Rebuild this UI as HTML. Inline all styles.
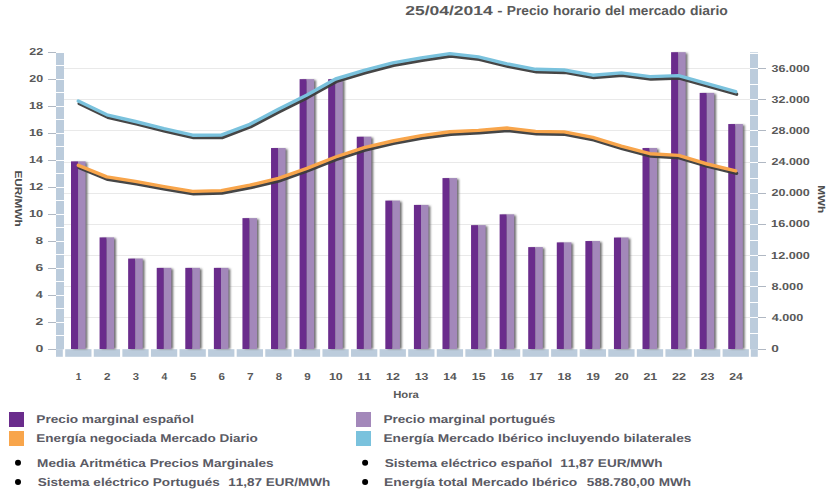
<!DOCTYPE html>
<html><head><meta charset="utf-8"><style>
html,body{margin:0;padding:0;background:#fff;}
svg{display:block;}
text{font-family:"Liberation Sans",sans-serif;font-weight:bold;font-kerning:none;text-rendering:geometricPrecision;}
</style></head><body>
<svg width="838" height="504" viewBox="0 0 838 504">
<rect width="838" height="504" fill="#fff"/>
<rect x="64" y="317" width="686" height="1" fill="#e9e9e9"/>
<rect x="64" y="286" width="686" height="1" fill="#e9e9e9"/>
<rect x="64" y="255" width="686" height="1" fill="#e9e9e9"/>
<rect x="64" y="224" width="686" height="1" fill="#e9e9e9"/>
<rect x="64" y="193" width="686" height="1" fill="#e9e9e9"/>
<rect x="64" y="162" width="686" height="1" fill="#e9e9e9"/>
<rect x="64" y="130" width="686" height="1" fill="#e9e9e9"/>
<rect x="64" y="99" width="686" height="1" fill="#e9e9e9"/>
<rect x="64" y="68" width="686" height="1" fill="#e9e9e9"/>
<rect x="56" y="52.3" width="8" height="297.0" fill="#bcccdc"/>
<rect x="56" y="335" width="8" height="1" fill="#fff"/>
<rect x="56" y="322" width="8" height="1" fill="#fff"/>
<rect x="56" y="308" width="8" height="1" fill="#fff"/>
<rect x="56" y="295" width="8" height="1" fill="#fff"/>
<rect x="56" y="281" width="8" height="1" fill="#fff"/>
<rect x="56" y="268" width="8" height="1" fill="#fff"/>
<rect x="56" y="254" width="8" height="1" fill="#fff"/>
<rect x="56" y="241" width="8" height="1" fill="#fff"/>
<rect x="56" y="227" width="8" height="1" fill="#fff"/>
<rect x="56" y="214" width="8" height="1" fill="#fff"/>
<rect x="56" y="200" width="8" height="1" fill="#fff"/>
<rect x="56" y="187" width="8" height="1" fill="#fff"/>
<rect x="56" y="173" width="8" height="1" fill="#fff"/>
<rect x="56" y="160" width="8" height="1" fill="#fff"/>
<rect x="56" y="146" width="8" height="1" fill="#fff"/>
<rect x="56" y="133" width="8" height="1" fill="#fff"/>
<rect x="56" y="119" width="8" height="1" fill="#fff"/>
<rect x="56" y="106" width="8" height="1" fill="#fff"/>
<rect x="56" y="92" width="8" height="1" fill="#fff"/>
<rect x="56" y="79" width="8" height="1" fill="#fff"/>
<rect x="56" y="65" width="8" height="1" fill="#fff"/>
<rect x="56" y="52" width="8" height="1" fill="#fff"/>
<rect x="56" y="349.2" width="6.8" height="7.6" fill="#bcccdc"/>
<rect x="750" y="52.3" width="8" height="297.0" fill="#bcccdc"/>
<rect x="750" y="317" width="8" height="1" fill="#fff"/>
<rect x="750" y="286" width="8" height="1" fill="#fff"/>
<rect x="750" y="255" width="8" height="1" fill="#fff"/>
<rect x="750" y="224" width="8" height="1" fill="#fff"/>
<rect x="750" y="193" width="8" height="1" fill="#fff"/>
<rect x="750" y="162" width="8" height="1" fill="#fff"/>
<rect x="750" y="130" width="8" height="1" fill="#fff"/>
<rect x="750" y="99" width="8" height="1" fill="#fff"/>
<rect x="750" y="68" width="8" height="1" fill="#fff"/>
<rect x="750" y="333" width="8" height="1" fill="#fff"/>
<rect x="750" y="302" width="8" height="1" fill="#fff"/>
<rect x="750" y="271" width="8" height="1" fill="#fff"/>
<rect x="750" y="240" width="8" height="1" fill="#fff"/>
<rect x="750" y="209" width="8" height="1" fill="#fff"/>
<rect x="750" y="178" width="8" height="1" fill="#fff"/>
<rect x="750" y="146" width="8" height="1" fill="#fff"/>
<rect x="750" y="115" width="8" height="1" fill="#fff"/>
<rect x="750" y="84" width="8" height="1" fill="#fff"/>
<rect x="750" y="53" width="8" height="1" fill="#fff"/>
<rect x="750.8" y="349.2" width="7" height="7.6" fill="#bcccdc"/>
<rect x="65.20" y="349.2" width="26.28" height="7.6" fill="#bcccdc"/>
<rect x="93.78" y="349.2" width="26.28" height="7.6" fill="#bcccdc"/>
<rect x="122.37" y="349.2" width="26.28" height="7.6" fill="#bcccdc"/>
<rect x="150.95" y="349.2" width="26.28" height="7.6" fill="#bcccdc"/>
<rect x="179.53" y="349.2" width="26.28" height="7.6" fill="#bcccdc"/>
<rect x="208.11" y="349.2" width="26.28" height="7.6" fill="#bcccdc"/>
<rect x="236.70" y="349.2" width="26.28" height="7.6" fill="#bcccdc"/>
<rect x="265.28" y="349.2" width="26.28" height="7.6" fill="#bcccdc"/>
<rect x="293.86" y="349.2" width="26.28" height="7.6" fill="#bcccdc"/>
<rect x="322.45" y="349.2" width="26.28" height="7.6" fill="#bcccdc"/>
<rect x="351.03" y="349.2" width="26.28" height="7.6" fill="#bcccdc"/>
<rect x="379.61" y="349.2" width="26.28" height="7.6" fill="#bcccdc"/>
<rect x="408.20" y="349.2" width="26.28" height="7.6" fill="#bcccdc"/>
<rect x="436.78" y="349.2" width="26.28" height="7.6" fill="#bcccdc"/>
<rect x="465.36" y="349.2" width="26.28" height="7.6" fill="#bcccdc"/>
<rect x="493.94" y="349.2" width="26.28" height="7.6" fill="#bcccdc"/>
<rect x="522.53" y="349.2" width="26.28" height="7.6" fill="#bcccdc"/>
<rect x="551.11" y="349.2" width="26.28" height="7.6" fill="#bcccdc"/>
<rect x="579.69" y="349.2" width="26.28" height="7.6" fill="#bcccdc"/>
<rect x="608.28" y="349.2" width="26.28" height="7.6" fill="#bcccdc"/>
<rect x="636.86" y="349.2" width="26.28" height="7.6" fill="#bcccdc"/>
<rect x="665.44" y="349.2" width="26.28" height="7.6" fill="#bcccdc"/>
<rect x="694.03" y="349.2" width="26.28" height="7.6" fill="#bcccdc"/>
<rect x="722.61" y="349.2" width="26.28" height="7.6" fill="#bcccdc"/>
<rect x="48" y="349" width="8" height="1" fill="#b0b8c3"/>
<rect x="48" y="322" width="8" height="1" fill="#b0b8c3"/>
<rect x="48" y="295" width="8" height="1" fill="#b0b8c3"/>
<rect x="48" y="268" width="8" height="1" fill="#b0b8c3"/>
<rect x="48" y="241" width="8" height="1" fill="#b0b8c3"/>
<rect x="48" y="214" width="8" height="1" fill="#b0b8c3"/>
<rect x="48" y="187" width="8" height="1" fill="#b0b8c3"/>
<rect x="48" y="160" width="8" height="1" fill="#b0b8c3"/>
<rect x="48" y="133" width="8" height="1" fill="#b0b8c3"/>
<rect x="48" y="106" width="8" height="1" fill="#b0b8c3"/>
<rect x="48" y="79" width="8" height="1" fill="#b0b8c3"/>
<rect x="48" y="52" width="8" height="1" fill="#b0b8c3"/>
<rect x="758" y="349" width="8" height="1" fill="#b0b8c3"/>
<rect x="758" y="317" width="8" height="1" fill="#b0b8c3"/>
<rect x="758" y="286" width="8" height="1" fill="#b0b8c3"/>
<rect x="758" y="255" width="8" height="1" fill="#b0b8c3"/>
<rect x="758" y="224" width="8" height="1" fill="#b0b8c3"/>
<rect x="758" y="193" width="8" height="1" fill="#b0b8c3"/>
<rect x="758" y="162" width="8" height="1" fill="#b0b8c3"/>
<rect x="758" y="130" width="8" height="1" fill="#b0b8c3"/>
<rect x="758" y="99" width="8" height="1" fill="#b0b8c3"/>
<rect x="758" y="68" width="8" height="1" fill="#b0b8c3"/>
<defs><filter id="bs" x="-50%" y="-50%" width="200%" height="200%"><feGaussianBlur stdDeviation="0.8"/></filter><filter id="ls" x="-10%" y="-10%" width="120%" height="120%"><feGaussianBlur stdDeviation="0.75"/></filter></defs>
<rect x="73.10" y="162.38" width="14.3" height="186.62" fill="#6a6a6a" filter="url(#bs)"/>
<rect x="101.68" y="238.41" width="14.3" height="110.59" fill="#6a6a6a" filter="url(#bs)"/>
<rect x="130.25" y="259.57" width="14.3" height="89.43" fill="#6a6a6a" filter="url(#bs)"/>
<rect x="158.83" y="268.87" width="14.3" height="80.13" fill="#6a6a6a" filter="url(#bs)"/>
<rect x="187.40" y="268.87" width="14.3" height="80.13" fill="#6a6a6a" filter="url(#bs)"/>
<rect x="215.98" y="268.87" width="14.3" height="80.13" fill="#6a6a6a" filter="url(#bs)"/>
<rect x="244.56" y="219.13" width="14.3" height="129.87" fill="#6a6a6a" filter="url(#bs)"/>
<rect x="273.13" y="149.03" width="14.3" height="199.97" fill="#6a6a6a" filter="url(#bs)"/>
<rect x="301.71" y="80.15" width="14.3" height="268.85" fill="#6a6a6a" filter="url(#bs)"/>
<rect x="330.28" y="80.15" width="14.3" height="268.85" fill="#6a6a6a" filter="url(#bs)"/>
<rect x="358.86" y="137.71" width="14.3" height="211.29" fill="#6a6a6a" filter="url(#bs)"/>
<rect x="387.44" y="201.60" width="14.3" height="147.40" fill="#6a6a6a" filter="url(#bs)"/>
<rect x="416.01" y="205.92" width="14.3" height="143.08" fill="#6a6a6a" filter="url(#bs)"/>
<rect x="444.59" y="179.09" width="14.3" height="169.91" fill="#6a6a6a" filter="url(#bs)"/>
<rect x="473.16" y="226.14" width="14.3" height="122.86" fill="#6a6a6a" filter="url(#bs)"/>
<rect x="501.74" y="215.35" width="14.3" height="133.65" fill="#6a6a6a" filter="url(#bs)"/>
<rect x="530.32" y="248.11" width="14.3" height="100.89" fill="#6a6a6a" filter="url(#bs)"/>
<rect x="558.89" y="243.39" width="14.3" height="105.61" fill="#6a6a6a" filter="url(#bs)"/>
<rect x="587.47" y="242.04" width="14.3" height="106.96" fill="#6a6a6a" filter="url(#bs)"/>
<rect x="616.04" y="238.54" width="14.3" height="110.46" fill="#6a6a6a" filter="url(#bs)"/>
<rect x="644.62" y="149.03" width="14.3" height="199.97" fill="#6a6a6a" filter="url(#bs)"/>
<rect x="673.20" y="53.19" width="14.3" height="295.81" fill="#6a6a6a" filter="url(#bs)"/>
<rect x="701.77" y="93.90" width="14.3" height="255.10" fill="#6a6a6a" filter="url(#bs)"/>
<rect x="730.35" y="125.04" width="14.3" height="223.96" fill="#6a6a6a" filter="url(#bs)"/>
<rect x="71.00" y="161.38" width="7.1" height="187.62" fill="#6a2c8c"/>
<rect x="78.10" y="161.38" width="7.5" height="187.62" fill="#a388ba"/>
<rect x="99.58" y="237.41" width="7.1" height="111.59" fill="#6a2c8c"/>
<rect x="106.68" y="237.41" width="7.5" height="111.59" fill="#a388ba"/>
<rect x="128.15" y="258.57" width="7.1" height="90.43" fill="#6a2c8c"/>
<rect x="135.25" y="258.57" width="7.5" height="90.43" fill="#a388ba"/>
<rect x="156.73" y="267.87" width="7.1" height="81.13" fill="#6a2c8c"/>
<rect x="163.83" y="267.87" width="7.5" height="81.13" fill="#a388ba"/>
<rect x="185.30" y="267.87" width="7.1" height="81.13" fill="#6a2c8c"/>
<rect x="192.40" y="267.87" width="7.5" height="81.13" fill="#a388ba"/>
<rect x="213.88" y="267.87" width="7.1" height="81.13" fill="#6a2c8c"/>
<rect x="220.98" y="267.87" width="7.5" height="81.13" fill="#a388ba"/>
<rect x="242.46" y="218.13" width="7.1" height="130.87" fill="#6a2c8c"/>
<rect x="249.56" y="218.13" width="7.5" height="130.87" fill="#a388ba"/>
<rect x="271.03" y="148.03" width="7.1" height="200.97" fill="#6a2c8c"/>
<rect x="278.13" y="148.03" width="7.5" height="200.97" fill="#a388ba"/>
<rect x="299.61" y="79.15" width="7.1" height="269.85" fill="#6a2c8c"/>
<rect x="306.71" y="79.15" width="7.5" height="269.85" fill="#a388ba"/>
<rect x="328.18" y="79.15" width="7.1" height="269.85" fill="#6a2c8c"/>
<rect x="335.28" y="79.15" width="7.5" height="269.85" fill="#a388ba"/>
<rect x="356.76" y="136.71" width="7.1" height="212.29" fill="#6a2c8c"/>
<rect x="363.86" y="136.71" width="7.5" height="212.29" fill="#a388ba"/>
<rect x="385.34" y="200.60" width="7.1" height="148.40" fill="#6a2c8c"/>
<rect x="392.44" y="200.60" width="7.5" height="148.40" fill="#a388ba"/>
<rect x="413.91" y="204.92" width="7.1" height="144.08" fill="#6a2c8c"/>
<rect x="421.01" y="204.92" width="7.5" height="144.08" fill="#a388ba"/>
<rect x="442.49" y="178.09" width="7.1" height="170.91" fill="#6a2c8c"/>
<rect x="449.59" y="178.09" width="7.5" height="170.91" fill="#a388ba"/>
<rect x="471.06" y="225.14" width="7.1" height="123.86" fill="#6a2c8c"/>
<rect x="478.16" y="225.14" width="7.5" height="123.86" fill="#a388ba"/>
<rect x="499.64" y="214.35" width="7.1" height="134.65" fill="#6a2c8c"/>
<rect x="506.74" y="214.35" width="7.5" height="134.65" fill="#a388ba"/>
<rect x="528.22" y="247.11" width="7.1" height="101.89" fill="#6a2c8c"/>
<rect x="535.32" y="247.11" width="7.5" height="101.89" fill="#a388ba"/>
<rect x="556.79" y="242.39" width="7.1" height="106.61" fill="#6a2c8c"/>
<rect x="563.89" y="242.39" width="7.5" height="106.61" fill="#a388ba"/>
<rect x="585.37" y="241.04" width="7.1" height="107.96" fill="#6a2c8c"/>
<rect x="592.47" y="241.04" width="7.5" height="107.96" fill="#a388ba"/>
<rect x="613.94" y="237.54" width="7.1" height="111.46" fill="#6a2c8c"/>
<rect x="621.04" y="237.54" width="7.5" height="111.46" fill="#a388ba"/>
<rect x="642.52" y="148.03" width="7.1" height="200.97" fill="#6a2c8c"/>
<rect x="649.62" y="148.03" width="7.5" height="200.97" fill="#a388ba"/>
<rect x="671.10" y="52.19" width="7.1" height="296.81" fill="#6a2c8c"/>
<rect x="678.20" y="52.19" width="7.5" height="296.81" fill="#a388ba"/>
<rect x="699.67" y="92.90" width="7.1" height="256.10" fill="#6a2c8c"/>
<rect x="706.77" y="92.90" width="7.5" height="256.10" fill="#a388ba"/>
<rect x="728.25" y="124.04" width="7.1" height="224.96" fill="#6a2c8c"/>
<rect x="735.35" y="124.04" width="7.5" height="224.96" fill="#a388ba"/>
<polyline points="78.29,101.00 106.87,114.80 135.46,121.50 164.04,128.70 192.62,135.20 221.21,135.10 249.79,124.30 278.37,109.20 306.96,94.90 335.54,79.00 364.12,70.40 392.70,62.90 421.29,57.90 449.87,53.60 478.45,56.90 507.04,63.80 535.62,69.30 564.20,70.00 592.79,75.20 621.37,72.90 649.95,76.60 678.53,75.60 707.12,83.60 735.70,91.70" transform="translate(0.9,2.5)" fill="none" stroke="#3c3c3c" stroke-opacity="0.95" stroke-width="3.3" stroke-linejoin="round" stroke-linecap="round" filter="url(#ls)"/>
<polyline points="78.29,101.00 106.87,114.80 135.46,121.50 164.04,128.70 192.62,135.20 221.21,135.10 249.79,124.30 278.37,109.20 306.96,94.90 335.54,79.00 364.12,70.40 392.70,62.90 421.29,57.90 449.87,53.60 478.45,56.90 507.04,63.80 535.62,69.30 564.20,70.00 592.79,75.20 621.37,72.90 649.95,76.60 678.53,75.60 707.12,83.60 735.70,91.70" fill="none" stroke="#7ac2dd" stroke-width="3.4" stroke-linejoin="round" stroke-linecap="round"/>
<polyline points="78.29,165.30 106.87,176.90 135.46,181.40 164.04,186.60 192.62,191.40 221.21,190.60 249.79,185.20 278.37,178.40 306.96,168.30 335.54,157.00 364.12,147.70 392.70,141.00 421.29,135.60 449.87,131.80 478.45,130.40 507.04,128.00 535.62,131.40 564.20,131.90 592.79,137.30 621.37,146.20 649.95,153.70 678.53,155.40 707.12,164.00 735.70,170.90" transform="translate(0.9,2.5)" fill="none" stroke="#3c3c3c" stroke-opacity="0.95" stroke-width="3.3" stroke-linejoin="round" stroke-linecap="round" filter="url(#ls)"/>
<polyline points="78.29,165.30 106.87,176.90 135.46,181.40 164.04,186.60 192.62,191.40 221.21,190.60 249.79,185.20 278.37,178.40 306.96,168.30 335.54,157.00 364.12,147.70 392.70,141.00 421.29,135.60 449.87,131.80 478.45,130.40 507.04,128.00 535.62,131.40 564.20,131.90 592.79,137.30 621.37,146.20 649.95,153.70 678.53,155.40 707.12,164.00 735.70,170.90" fill="none" stroke="#f8a54b" stroke-width="3.4" stroke-linejoin="round" stroke-linecap="round"/>
<text x="405.29" y="15.0" font-size="13" fill="#595959" textLength="87.50" lengthAdjust="spacingAndGlyphs">25/04/2014</text>
<text x="497.28" y="15.0" font-size="13" fill="#595959" textLength="5.25" lengthAdjust="spacingAndGlyphs">-</text>
<text x="506.78" y="15.0" font-size="13" fill="#595959" textLength="41.95" lengthAdjust="spacingAndGlyphs">Precio</text>
<text x="552.93" y="15.0" font-size="13" fill="#595959" textLength="47.71" lengthAdjust="spacingAndGlyphs">horario</text>
<text x="604.93" y="15.0" font-size="13" fill="#595959" textLength="19.94" lengthAdjust="spacingAndGlyphs">del</text>
<text x="628.70" y="15.0" font-size="13" fill="#595959" textLength="56.93" lengthAdjust="spacingAndGlyphs">mercado</text>
<text x="689.93" y="15.0" font-size="13" fill="#595959" textLength="37.92" lengthAdjust="spacingAndGlyphs">diario</text>
<text x="35.44" y="352" font-size="10.2" fill="#595959" textLength="7.84" lengthAdjust="spacingAndGlyphs">0</text>
<text x="35.52" y="325" font-size="10.2" fill="#595959" textLength="7.74" lengthAdjust="spacingAndGlyphs">2</text>
<text x="35.81" y="298" font-size="10.2" fill="#595959" textLength="6.96" lengthAdjust="spacingAndGlyphs">4</text>
<text x="35.49" y="271" font-size="10.2" fill="#595959" textLength="7.71" lengthAdjust="spacingAndGlyphs">6</text>
<text x="35.57" y="244" font-size="10.2" fill="#595959" textLength="7.55" lengthAdjust="spacingAndGlyphs">8</text>
<text x="28.99" y="217" font-size="10.2" fill="#595959" textLength="14.23" lengthAdjust="spacingAndGlyphs">10</text>
<text x="28.99" y="190" font-size="10.2" fill="#595959" textLength="14.22" lengthAdjust="spacingAndGlyphs">12</text>
<text x="29.02" y="163" font-size="10.2" fill="#595959" textLength="13.74" lengthAdjust="spacingAndGlyphs">14</text>
<text x="29.00" y="136" font-size="10.2" fill="#595959" textLength="14.16" lengthAdjust="spacingAndGlyphs">16</text>
<text x="29.00" y="109" font-size="10.2" fill="#595959" textLength="14.09" lengthAdjust="spacingAndGlyphs">18</text>
<text x="29.37" y="82" font-size="10.2" fill="#595959" textLength="13.84" lengthAdjust="spacingAndGlyphs">20</text>
<text x="29.37" y="55" font-size="10.2" fill="#595959" textLength="13.83" lengthAdjust="spacingAndGlyphs">22</text>
<text x="771.36" y="352" font-size="10.2" fill="#595959" textLength="7.60" lengthAdjust="spacingAndGlyphs">0</text>
<text x="771.71" y="321" font-size="10.2" fill="#595959" textLength="31.51" lengthAdjust="spacingAndGlyphs">4.000</text>
<text x="771.50" y="290" font-size="10.2" fill="#595959" textLength="31.72" lengthAdjust="spacingAndGlyphs">8.000</text>
<text x="771.10" y="259" font-size="10.2" fill="#595959" textLength="38.72" lengthAdjust="spacingAndGlyphs">12.000</text>
<text x="771.10" y="227" font-size="10.2" fill="#595959" textLength="38.72" lengthAdjust="spacingAndGlyphs">16.000</text>
<text x="771.47" y="196" font-size="10.2" fill="#595959" textLength="38.35" lengthAdjust="spacingAndGlyphs">20.000</text>
<text x="771.47" y="165" font-size="10.2" fill="#595959" textLength="38.35" lengthAdjust="spacingAndGlyphs">24.000</text>
<text x="771.47" y="134" font-size="10.2" fill="#595959" textLength="38.35" lengthAdjust="spacingAndGlyphs">28.000</text>
<text x="771.61" y="103" font-size="10.2" fill="#595959" textLength="38.20" lengthAdjust="spacingAndGlyphs">32.000</text>
<text x="771.61" y="72" font-size="10.2" fill="#595959" textLength="38.20" lengthAdjust="spacingAndGlyphs">36.000</text>
<text x="75.76" y="380" font-size="10.2" fill="#595959" textLength="5.62" lengthAdjust="spacingAndGlyphs">1</text>
<text x="104.12" y="380" font-size="10.2" fill="#595959" textLength="6.47" lengthAdjust="spacingAndGlyphs">2</text>
<text x="132.85" y="380" font-size="10.2" fill="#595959" textLength="6.27" lengthAdjust="spacingAndGlyphs">3</text>
<text x="161.53" y="380" font-size="10.2" fill="#595959" textLength="5.81" lengthAdjust="spacingAndGlyphs">4</text>
<text x="189.93" y="380" font-size="10.2" fill="#595959" textLength="6.26" lengthAdjust="spacingAndGlyphs">5</text>
<text x="218.43" y="380" font-size="10.2" fill="#595959" textLength="6.44" lengthAdjust="spacingAndGlyphs">6</text>
<text x="246.93" y="380" font-size="10.2" fill="#595959" textLength="6.64" lengthAdjust="spacingAndGlyphs">7</text>
<text x="275.66" y="380" font-size="10.2" fill="#595959" textLength="6.31" lengthAdjust="spacingAndGlyphs">8</text>
<text x="304.20" y="380" font-size="10.2" fill="#595959" textLength="6.43" lengthAdjust="spacingAndGlyphs">9</text>
<text x="328.96" y="380" font-size="10.2" fill="#595959" textLength="13.79" lengthAdjust="spacingAndGlyphs">10</text>
<text x="357.55" y="380" font-size="10.2" fill="#595959" textLength="13.61" lengthAdjust="spacingAndGlyphs">11</text>
<text x="386.12" y="380" font-size="10.2" fill="#595959" textLength="13.78" lengthAdjust="spacingAndGlyphs">12</text>
<text x="414.71" y="380" font-size="10.2" fill="#595959" textLength="13.72" lengthAdjust="spacingAndGlyphs">13</text>
<text x="443.32" y="380" font-size="10.2" fill="#595959" textLength="13.32" lengthAdjust="spacingAndGlyphs">14</text>
<text x="471.88" y="380" font-size="10.2" fill="#595959" textLength="13.61" lengthAdjust="spacingAndGlyphs">15</text>
<text x="500.46" y="380" font-size="10.2" fill="#595959" textLength="13.72" lengthAdjust="spacingAndGlyphs">16</text>
<text x="529.04" y="380" font-size="10.2" fill="#595959" textLength="13.83" lengthAdjust="spacingAndGlyphs">17</text>
<text x="557.63" y="380" font-size="10.2" fill="#595959" textLength="13.65" lengthAdjust="spacingAndGlyphs">18</text>
<text x="586.21" y="380" font-size="10.2" fill="#595959" textLength="13.74" lengthAdjust="spacingAndGlyphs">19</text>
<text x="614.88" y="380" font-size="10.2" fill="#595959" textLength="13.95" lengthAdjust="spacingAndGlyphs">20</text>
<text x="643.47" y="380" font-size="10.2" fill="#595959" textLength="13.77" lengthAdjust="spacingAndGlyphs">21</text>
<text x="672.05" y="380" font-size="10.2" fill="#595959" textLength="13.94" lengthAdjust="spacingAndGlyphs">22</text>
<text x="700.63" y="380" font-size="10.2" fill="#595959" textLength="13.88" lengthAdjust="spacingAndGlyphs">23</text>
<text x="729.23" y="380" font-size="10.2" fill="#595959" textLength="13.49" lengthAdjust="spacingAndGlyphs">24</text>
<text x="393.15" y="398" font-size="10.2" fill="#595959" textLength="25.68" lengthAdjust="spacingAndGlyphs">Hora</text>
<text transform="translate(14.9,0) rotate(90)" x="170.41" y="0" font-size="10" fill="#4d4d4d" textLength="56.42" lengthAdjust="spacingAndGlyphs">EUR/MWh</text>
<text transform="translate(818.2,0) rotate(90)" x="185.22" y="0" font-size="10" fill="#4d4d4d" textLength="28.01" lengthAdjust="spacingAndGlyphs">MWh</text>
<rect x="9" y="412" width="15" height="15" fill="#6a2c8c"/>
<rect x="9" y="431" width="15" height="15" fill="#f8a54b"/>
<rect x="356" y="412" width="15" height="15" fill="#a388ba"/>
<rect x="356" y="431" width="15" height="15" fill="#7ac2dd"/>
<text x="36.34" y="423" font-size="11.4" fill="#5a5a64" textLength="157.68" lengthAdjust="spacingAndGlyphs">Precio marginal español</text>
<text x="36.35" y="442" font-size="11.4" fill="#5a5a64" textLength="221.53" lengthAdjust="spacingAndGlyphs">Energía negociada Mercado Diario</text>
<text x="383.44" y="423" font-size="11.4" fill="#5a5a64" textLength="171.96" lengthAdjust="spacingAndGlyphs">Precio marginal portugués</text>
<text x="383.43" y="442" font-size="11.4" fill="#5a5a64" textLength="308.08" lengthAdjust="spacingAndGlyphs">Energía Mercado Ibérico incluyendo bilaterales</text>
<circle cx="18" cy="462.8" r="3" fill="#000"/>
<circle cx="18" cy="482.0" r="3" fill="#000"/>
<circle cx="365.1" cy="462.8" r="3" fill="#000"/>
<circle cx="365.1" cy="482.0" r="3" fill="#000"/>
<text x="37.14" y="467" font-size="11.4" fill="#5a5a64" textLength="236.47" lengthAdjust="spacingAndGlyphs">Media Aritmética Precios Marginales</text>
<text x="37.66" y="486" font-size="11.4" fill="#5a5a64" textLength="182.15" lengthAdjust="spacingAndGlyphs">Sistema eléctrico Portugués</text>
<text x="228.30" y="486" font-size="11.4" fill="#5a5a64" textLength="102.09" lengthAdjust="spacingAndGlyphs">11,87 EUR/MWh</text>
<text x="384.66" y="467" font-size="11.4" fill="#5a5a64" textLength="167.66" lengthAdjust="spacingAndGlyphs">Sistema eléctrico español</text>
<text x="560.20" y="467" font-size="11.4" fill="#5a5a64" textLength="102.39" lengthAdjust="spacingAndGlyphs">11,87 EUR/MWh</text>
<text x="384.13" y="486" font-size="11.4" fill="#5a5a64" textLength="193.16" lengthAdjust="spacingAndGlyphs">Energía total Mercado Ibérico</text>
<text x="586.83" y="486" font-size="11.4" fill="#5a5a64" textLength="104.36" lengthAdjust="spacingAndGlyphs">588.780,00 MWh</text>
</svg>
</body></html>
